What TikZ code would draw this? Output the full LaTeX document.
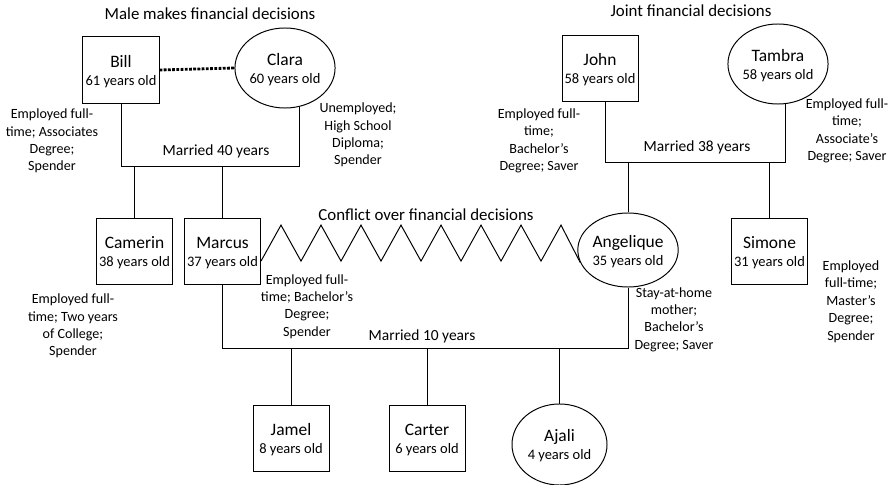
\documentclass[tikz,border=0pt]{standalone}
\usepackage{fontspec}
\setmainfont{Carlito}
\usetikzlibrary{shapes.geometric,calc}
\newcommand{\yrs}[1]{{\fontsize{10.3}{12}\selectfont #1}}
\newcommand{\who}[2]{\begin{tabular}[t]{@{}c@{}}#1\\\yrs{#2}\end{tabular}}

\begin{document}
\begin{tikzpicture}[x=0.025cm,y=-0.025cm,line width=0.7pt,
  malebox/.style={draw,rectangle,minimum width=1.9cm,minimum height=1.65cm,inner sep=0pt,
    text height=0pt,text depth=4pt,font=\fontsize{12.4}{12.8}\selectfont},
  femalebox/.style={draw,ellipse,minimum width=2.4cm,minimum height=2cm,inner sep=0pt,
    text height=0pt,text depth=4pt,font=\fontsize{12.4}{12.8}\selectfont},
  notetext/.style={align=center,font=\fontsize{10}{12.4}\selectfont},
  captext/.style={font=\fontsize{12}{14}\selectfont},
  bartext/.style={font=\fontsize{11}{13}\selectfont}]
  \useasboundingbox (0,0) rectangle (894,485);

  % Grandparents, left side
  \node[captext] (lefttitle) at (210,14) {Male makes financial decisions};
  \node[malebox] (bill) at (121,70) {\who{Bill}{61 years old}};
  \node[femalebox] (clara) at (285,68) {\who{Clara}{60 years old}};
  \draw[line width=2pt,dash pattern=on 2pt off 1pt] (bill.east) -- (clara.west);
  \node[notetext] (billnote) at (52,141) {Employed full-\\time; Associates\\Degree;\\Spender};
  \node[notetext] (claranote) at (358,135) {Unemployed;\\High School\\Diploma;\\Spender};
  \coordinate (bar40) at (0,166);
  \draw (bill.south) -- (bill.south |- bar40) -- (clara.-70 |- bar40) -- (clara.-70);
  \node[bartext] (m40) at (216,151) {Married 40 years};

  % Grandparents, right side
  \node[captext] (righttitle) at (691,11) {Joint financial decisions};
  \node[malebox] (john) at (600,68.5) {\who{John}{58 years old}};
  \node[femalebox] (tambra) at (778,64) {\who{Tambra}{58 years old}};
  \node[notetext] (johnnote) at (539,141) {Employed full-\\time;\\Bachelor’s\\Degree; Saver};
  \node[notetext] (tambranote) at (847,131) {Employed full-\\time;\\Associate’s\\Degree; Saver};
  \coordinate (bar38) at (0,162);
  \draw ([xshift=4pt]john.south) -- ([xshift=4pt]john.south |- bar38) -- (tambra.-80 |- bar38) -- (tambra.-80);
  \node[bartext] (m38) at (697,147) {Married 38 years};

  % Middle generation
  \node[malebox] (camerin) at (134.5,251.5) {\who{Camerin}{38 years old}};
  \node[malebox] (marcus) at (222.5,251.5) {\who{Marcus}{37 years old}};
  \node[femalebox,minimum width=2.45cm,minimum height=1.85cm] (angelique) at (628,250) {\who{Angelique}{35 years old}};
  \node[malebox] (simone) at (769.5,251.5) {\who{Simone}{31 years old}};
  \draw (camerin.north) -- (camerin.north |- bar40);
  \draw (marcus.north) -- (marcus.north |- bar40);
  \draw (angelique.north) -- (angelique.north |- bar38);
  \draw (simone.north) -- (simone.north |- bar38);
  \node[notetext] (camerinnote) at (73,326) {Employed full-\\time; Two years\\of College;\\Spender};
  \node[notetext] (marcusnote) at (307,306.5) {Employed full-\\time; Bachelor’s\\Degree;\\Spender};
  \node[notetext] (angeliquenote) at (674,319.5) {Stay-at-home\\mother;\\Bachelor’s\\Degree; Saver};
  \node[notetext] (simonenote) at (851,301.5) {Employed\\full-time;\\Master’s\\Degree;\\Spender};

  % Conflict
  \node[captext] (conflict) at (426,215) {Conflict over financial decisions};
  \draw (marcus.-14) \foreach \k in {1,...,7} { -- ++(20,-36) -- ++(20,36) } -- ++(20,-36) -- (angelique.195);

  % Children
  \coordinate (bar10) at (0,348);
  \draw (marcus.south) -- (marcus.south |- bar10) -- (angelique.south |- bar10) -- (angelique.south);
  \node[bartext] (m10) at (422,336) {Married 10 years};
  \node[malebox] (jamel) at (291,438.5) {\who{Jamel}{8 years old}};
  \node[malebox] (carter) at (427,438.5) {\who{Carter}{6 years old}};
  \node[femalebox,minimum width=2.375cm,minimum height=2.025cm] (ajali) at (559.5,444.5) {\who{Ajali}{4 years old}};
  \draw (jamel.north) -- (jamel.north |- bar10);
  \draw (carter.north) -- (carter.north |- bar10);
  \draw (ajali.north) -- (ajali.north |- bar10);
\end{tikzpicture}
\end{document}
